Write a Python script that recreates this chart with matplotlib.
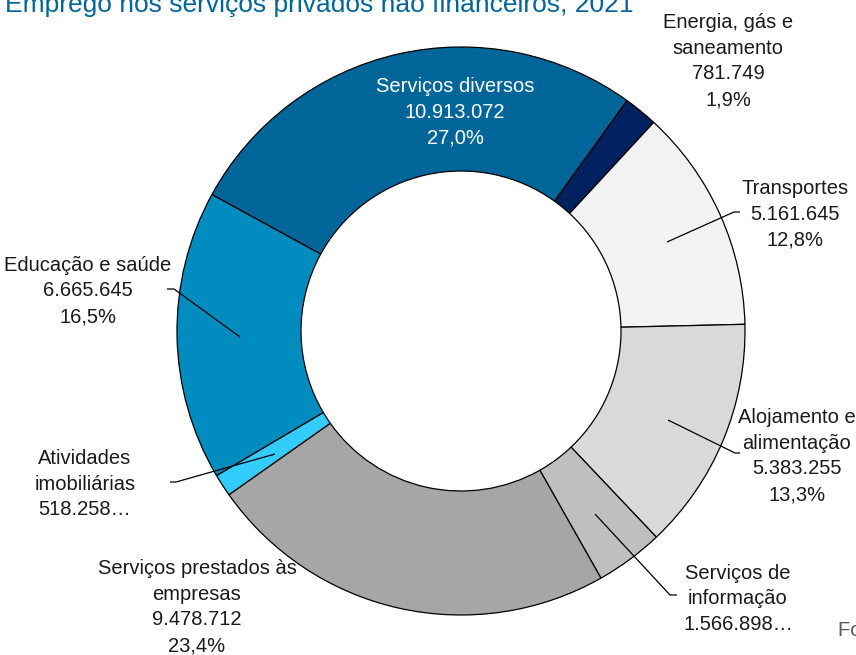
import matplotlib
matplotlib.use("Agg")
import matplotlib.pyplot as plt
from matplotlib import font_manager

# ---------------- data ----------------
categories = ["Serviços diversos", "Energia, gás e\nsaneamento", "Transportes",
              "Alojamento e\nalimentação", "Serviços de\ninformação",
              "Serviços prestados às\nempresas", "Atividades\nimobiliárias",
              "Educação e saúde"]
values = [10913072, 781749, 5161645, 5383255, 1566898, 9478712, 518258, 6665645]
truncated = [False, False, False, False, True, False, True, False]
colors = ["#006699", "#002060", "#F2F2F2", "#D9D9D9", "#BFBFBF", "#A6A6A6",
          "#33CCFF", "#008CBF"]
title = "Emprego nos serviços privados não financeiros, 2021"
source = "Fonte: IBGE, Pesquisa Anual de Serviços"

# ---------------- fonts ----------------
names = {f.name for f in font_manager.fontManager.ttflist}
lab_font = ["Liberation Sans Narrow", "Liberation Sans", "DejaVu Sans"]
lab_font = [f for f in lab_font if f in names] or ["DejaVu Sans"]
title_font = [f for f in ["Liberation Sans", "DejaVu Sans"] if f in names]

W, H = 856, 655
fig = plt.figure(figsize=(W / 100, H / 100), dpi=100)
ax = fig.add_axes([0, 0, 1, 1])

def Y(y):
    return H - y

cx, cy, R, r_in = 461, 331, 284, 160
ax.pie(values, colors=colors, startangle=151.3, counterclock=False,
       radius=R, center=(cx, Y(cy)), frame=True,
       wedgeprops=dict(width=R - r_in, edgecolor="black", linewidth=0.9))
ax.set_xlim(0, W)
ax.set_ylim(0, H)
ax.set_aspect("equal")
ax.axis("off")

def fmt_int(v):
    return f"{v:,}".replace(",", ".")

total = sum(values)
labels = []
for c, v, t in zip(categories, values, truncated):
    pct = f"{100 * v / total:.1f}".replace(".", ",") + "%"
    if t:
        labels.append(f"{c}\n{fmt_int(v)}…")
    else:
        labels.append(f"{c}\n{fmt_int(v)}\n{pct}")

# label centres (pixel coords of middle of text block)
label_pos = [(455, 112), (728, 61), (795, 214), (797, 456), (738, 599),
             (197, 607), (85, 484), (88, 291)]
label_col = ["white"] + ["#1a1a1a"] * 7

for lab, (x, y), col in zip(labels, label_pos, label_col):
    ax.text(x, Y(y), lab, ha="center", va="center", fontsize=14.5,
            family=lab_font, color=col, linespacing=1.45)

# leader lines
leaders = [None, None,
           [(667, 242), (734, 212), (740, 212)],
           [(668, 420), (735, 453), (740, 453)],
           [(595, 514), (670, 595), (677, 595)],
           None,
           [(275, 454), (176, 482), (170, 482)],
           [(240, 337), (174, 289), (167, 289)]]
for ld in leaders:
    if ld:
        xs = [p[0] for p in ld]
        ys = [Y(p[1]) for p in ld]
        ax.plot(xs, ys, color="black", lw=0.9, solid_capstyle="butt")

ax.text(5, Y(12), title, ha="left", va="baseline", fontsize=19,
        family=title_font, color="#006699")
ax.text(838, Y(630), source, ha="left", va="center", fontsize=14.5,
        family=lab_font, color="#595959")

fig.savefig("out.png", dpi=100)
